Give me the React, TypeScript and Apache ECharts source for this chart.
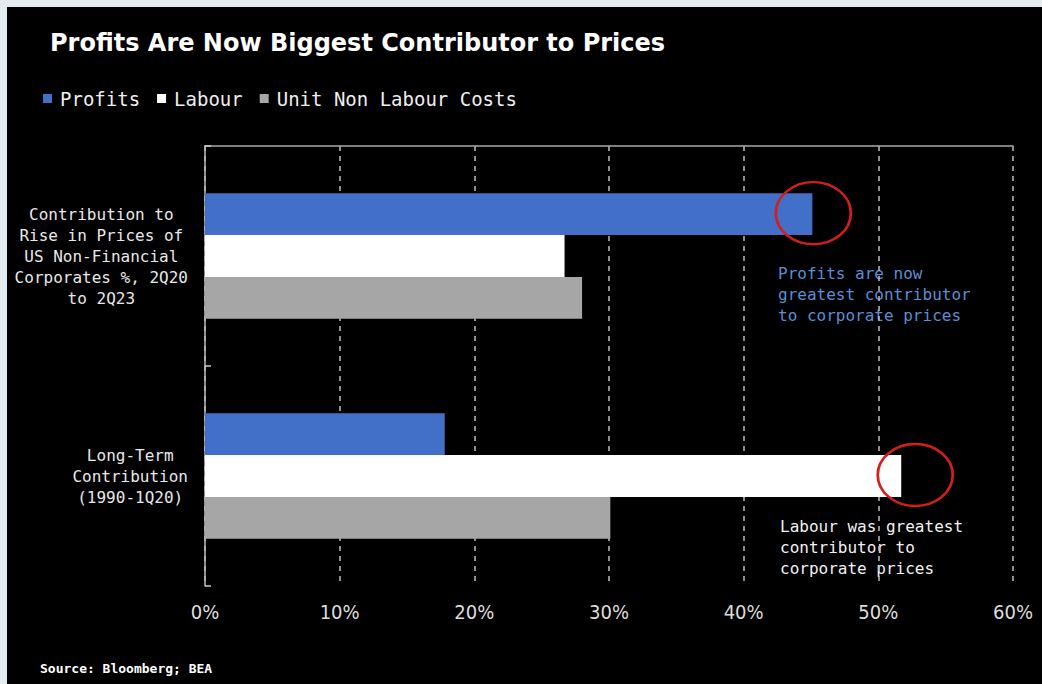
import React, { useEffect, useRef } from "react";
import * as echarts from "echarts";

const categories = [
  "Contribution to\nRise in Prices of\nUS Non-Financial\nCorporates %, 2Q20\nto 2Q23",
  "Long-Term\nContribution\n(1990-1Q20)",
];
const seriesNames = ["Profits", "Labour", "Unit Non Labour Costs"];
const profits = [45.1, 17.8];
const labour = [26.7, 51.7];
const unitNonLabour = [28.0, 30.1];
const xMin = 0;
const xMax = 60;
const xInterval = 10;

const titleText = "Profits Are Now Biggest Contributor to Prices";
const sourceText = "Source: Bloomberg; BEA";
const note1 = "Profits are now\ngreatest contributor\nto corporate prices";
const note2 = "Labour was greatest\ncontributor to\ncorporate prices";

const MONO = '"DejaVu Sans Mono", "Liberation Mono", monospace';
const ELLIPSE = "path://M0,50 A50,50 0 1,1 100,50 A50,50 0 1,1 0,50 Z";

export default function App() {
  const ref = useRef<HTMLDivElement>(null);
  useEffect(() => {
    if (!ref.current) return;
    const chart = echarts.init(ref.current, undefined, { renderer: "svg" });
    const circle = {
      symbol: ELLIPSE,
      symbolSize: [75, 62],
      itemStyle: { color: "rgba(0,0,0,0)", borderColor: "#d41e1e", borderWidth: 2.5 },
      label: { show: false },
    };
    chart.setOption({
      animation: false,
      backgroundColor: "transparent",
      title: {
        text: titleText,
        left: 45,
        top: 26,
        textStyle: {
          color: "#ffffff",
          fontSize: 24,
          fontWeight: "bold",
          fontFamily: '"DejaVu Sans", sans-serif',
        },
      },
      legend: {
        left: 38,
        top: 84,
        icon: "rect",
        itemWidth: 9,
        itemHeight: 9,
        itemGap: 17,
        data: seriesNames,
        textStyle: { color: "#eeeeee", fontSize: 19, fontFamily: MONO, padding: [0, 0, 0, 3] },
      },
      grid: { left: 205, right: 29, top: 146, bottom: 98, containLabel: false },
      xAxis: [
        {
          type: "value",
          min: xMin,
          max: xMax,
          interval: xInterval,
          position: "bottom",
          axisLine: { show: false },
          axisTick: { show: false },
          axisLabel: {
            formatter: "{value}%",
            color: "#dddddd",
            fontSize: 20,
            margin: 16,
            fontFamily: '"Liberation Sans Narrow", "DejaVu Sans Condensed", sans-serif',
          },
          splitLine: {
            show: true,
            lineStyle: { color: "#bdbdbd", type: [5, 5], width: 1.5 },
          },
        },
        {
          type: "value",
          min: xMin,
          max: xMax,
          interval: xInterval,
          position: "top",
          axisLine: { show: true, lineStyle: { color: "#aaaaaa", width: 1.5 } },
          axisTick: { show: false },
          axisLabel: { show: false },
          splitLine: { show: false },
        },
      ],
      yAxis: {
        type: "category",
        data: categories,
        inverse: true,
        axisLine: { show: true, lineStyle: { color: "#bbbbbb", width: 1.5 } },
        axisTick: { show: true, inside: true, length: 6, lineStyle: { color: "#cccccc", width: 1.5 } },
        axisLabel: {
          margin: 17,
          color: "#e8e8e8",
          fontSize: 16,
          fontFamily: MONO,
          lineHeight: 21,
          formatter: (v: string) =>
            v
              .split("\n")
              .map((l) => `{c|${l}}`)
              .join("\n"),
          rich: {
            c: { align: "center", fontSize: 16, fontFamily: MONO, color: "#e8e8e8", lineHeight: 21 },
          },
        },
      },
      series: [
        {
          name: seriesNames[0],
          type: "bar",
          data: profits,
          barGap: "0%",
          barCategoryGap: "43%",
          itemStyle: { color: "#4270c8" },
          markPoint: {
            ...circle,
            symbolOffset: [1, -1],
            data: [{ coord: [profits[0], 0] }],
          },
        },
        {
          name: seriesNames[1],
          type: "bar",
          data: labour,
          barGap: "0%",
          barCategoryGap: "43%",
          itemStyle: { color: "#ffffff" },
          markPoint: {
            ...circle,
            symbolOffset: [14, -1],
            data: [{ coord: [labour[1], 1] }],
          },
        },
        {
          name: seriesNames[2],
          type: "bar",
          data: unitNonLabour,
          barGap: "0%",
          barCategoryGap: "43%",
          itemStyle: { color: "#a6a6a6" },
        },
      ],
      graphic: [
        {
          type: "text",
          left: 778,
          top: 263,
          style: {
            text: note1,
            fill: "#5b8ed6",
            font: `16px ${MONO}`,
            lineHeight: 21,
          },
        },
        {
          type: "text",
          left: 780,
          top: 516,
          style: {
            text: note2,
            fill: "#f2f2f2",
            font: `16px ${MONO}`,
            lineHeight: 21,
          },
        },
        {
          type: "text",
          left: 40,
          top: 662,
          style: {
            text: sourceText,
            fill: "#ffffff",
            font: `bold 13px ${MONO}`,
          },
        },
      ],
    });
    return () => chart.dispose();
  }, []);

  return (
    <div style={{ position: "fixed", left: 0, top: 0, width: 1042, height: 684, background: "#e3ebef" }}>
      <div style={{ position: "absolute", left: 7, top: 7, width: 1035, height: 677, background: "#000000" }} />
      <div ref={ref} style={{ position: "absolute", left: 0, top: 0, width: 1042, height: 684 }} />
    </div>
  );
}
